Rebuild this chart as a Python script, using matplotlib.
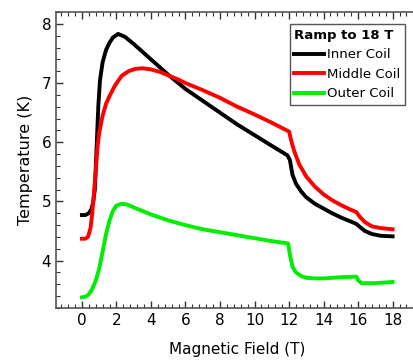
import matplotlib
matplotlib.use('Agg')
import matplotlib.pyplot as plt
from matplotlib.ticker import MultipleLocator

# Field (T) and temperatures (K)
inner_x = [0, 0.2, 0.4, 0.55, 0.65, 0.75, 0.85, 0.95, 1.05, 1.2, 1.4, 1.6, 1.8, 2.1, 2.5, 3, 3.5, 4, 4.5, 5, 5.5, 6, 7, 8, 9, 10, 11, 11.9, 12.05,
           12.2, 12.4, 12.7, 13, 13.5, 14, 14.5, 15, 15.5, 15.9, 16.1, 16.4, 16.8, 17.3, 18]
inner_y = [4.77, 4.77, 4.8, 4.87, 4.98, 5.2, 5.9, 6.6, 7.05, 7.35, 7.56, 7.68, 7.77, 7.83, 7.78, 7.66, 7.53, 7.4, 7.27, 7.14, 7.02, 6.9, 6.7, 6.5, 6.3, 6.12, 5.94, 5.78, 5.7,
           5.45, 5.3, 5.17, 5.07, 4.96, 4.88, 4.8, 4.73, 4.67, 4.62, 4.57, 4.5, 4.45, 4.42, 4.41]

middle_x = [0, 0.2, 0.35, 0.5, 0.6, 0.7, 0.8, 0.9, 1.0, 1.2, 1.4, 1.6, 1.9, 2.3, 2.7, 3.1, 3.5, 4, 4.5, 5, 5.5, 6, 7, 8, 9, 10, 11, 12.0,
            12.15, 12.3, 12.6, 13, 13.5, 14, 14.5, 15, 15.5, 15.9, 16.1, 16.4, 16.8, 17.3, 18]
middle_y = [4.37, 4.37, 4.4, 4.55, 4.8, 5.15, 5.5, 5.9, 6.15, 6.45, 6.65, 6.78, 6.95, 7.12, 7.2, 7.24, 7.25, 7.23, 7.19, 7.13, 7.07, 7.0, 6.88, 6.75, 6.6, 6.47, 6.33, 6.18,
            6.0, 5.85, 5.62, 5.42, 5.25, 5.12, 5.02, 4.94, 4.87, 4.82, 4.74, 4.65, 4.58, 4.55, 4.53]

outer_x = [0, 0.2, 0.4, 0.6, 0.8, 1.0, 1.2, 1.4, 1.6, 1.8, 2.0, 2.3, 2.6, 3, 3.5, 4, 5, 6, 7, 8, 9, 10, 11, 11.95,
           12.05, 12.2, 12.4, 12.7, 13, 13.5, 14, 15, 15.9, 16.0, 16.2, 17, 18]
outer_y = [3.38, 3.39, 3.43, 3.52, 3.66, 3.86, 4.15, 4.45, 4.68, 4.84, 4.93, 4.96, 4.95, 4.9, 4.84, 4.78, 4.68, 4.6, 4.53, 4.48, 4.43, 4.38, 4.33, 4.29,
           4.1, 3.9, 3.8, 3.74, 3.71, 3.7, 3.7, 3.72, 3.73, 3.67, 3.62, 3.62, 3.64]

x_ticks = [0, 2, 4, 6, 8, 10, 12, 14, 16, 18]
y_ticks = [4, 5, 6, 7, 8]

fig = plt.figure(figsize=(4.13, 3.6), dpi=100)
ax = fig.add_axes([56 / 413, 52 / 360, 362.5 / 413, 296 / 360])

ax.plot(inner_x, inner_y, color='black', lw=2.8, label='Inner Coil')
ax.plot(middle_x, middle_y, color='#ff0000', lw=2.8, label='Middle Coil')
ax.plot(outer_x, outer_y, color='#00ee00', lw=2.8, label='Outer Coil')

ax.set_xlim(-1.5, 19.5)
ax.set_ylim(3.2, 8.2)
ax.set_xticks(x_ticks)
ax.set_yticks(y_ticks)
ax.xaxis.set_minor_locator(MultipleLocator(0.4))
ax.yaxis.set_minor_locator(MultipleLocator(0.2))
ax.tick_params(which='both', direction='in', top=True, right=False, labelsize=11, color='#333333')
ax.tick_params(which='major', length=5, width=1)
ax.tick_params(which='minor', length=3, width=0.8)
for s in ax.spines.values():
    s.set_color('#555555')
    s.set_linewidth(1.2)

ax.set_xlabel('Magnetic Field (T)', fontsize=11, labelpad=10)
ax.set_ylabel('Temperature (K)', fontsize=11.5, labelpad=6)

leg = ax.legend(title='Ramp to 18 T', loc='upper right', bbox_to_anchor=(405 / 413, 1 - 24 / 360),
                bbox_transform=fig.transFigure, borderaxespad=0, fancybox=False, framealpha=1,
                edgecolor='#555555', fontsize=9.5, handlelength=2.3, handletextpad=0.2,
                borderpad=0.35, labelspacing=0.5, alignment='left',
                title_fontproperties={'weight': 'bold', 'size': 9.5})
leg.get_frame().set_linewidth(1)

fig.savefig('out.png', dpi=100)
